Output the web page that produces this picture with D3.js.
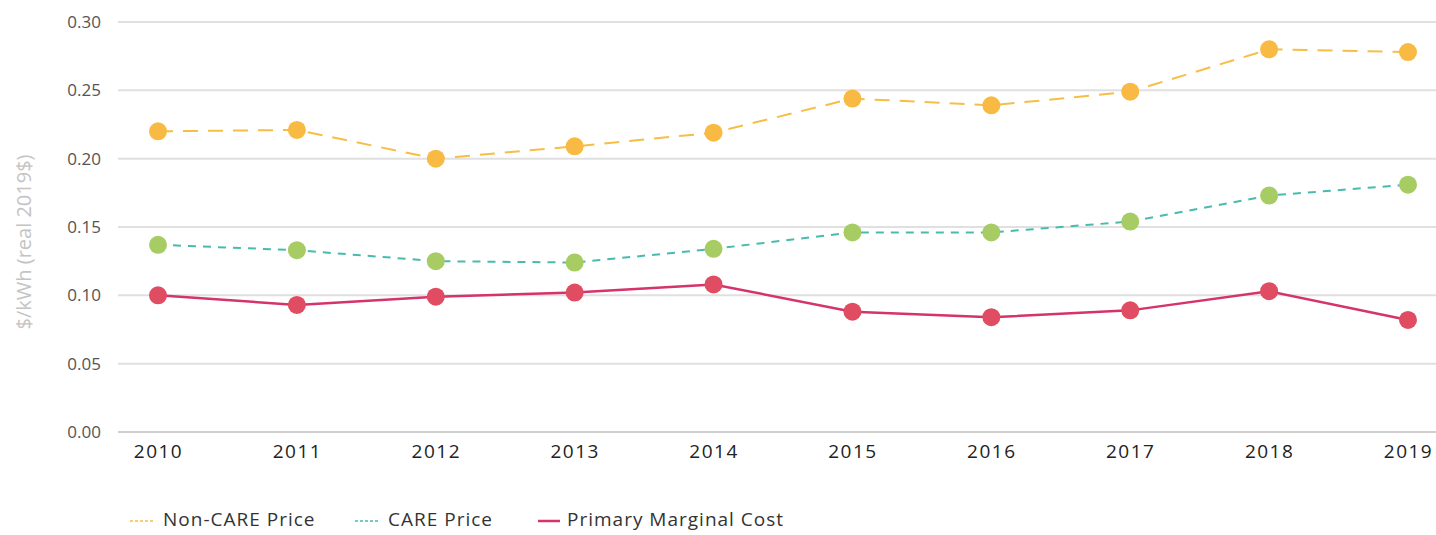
<!DOCTYPE html>
<html><head><meta charset="utf-8">
<script src="https://cdn.jsdelivr.net/npm/d3@7"></script>
<style>
html,body{margin:0;padding:0;background:#fff;}
svg text{font-family:"Open Sans",Lato,sans-serif;}
</style></head>
<body><svg id="c" width="1436" height="535"></svg>
<script>
const years = [2010,2011,2012,2013,2014,2015,2016,2017,2018,2019];
const nonCare = [0.220,0.221,0.200,0.209,0.219,0.244,0.239,0.249,0.280,0.278];
const care = [0.137,0.133,0.125,0.124,0.134,0.146,0.146,0.154,0.173,0.181];
const primary = [0.100,0.093,0.099,0.102,0.108,0.088,0.084,0.089,0.103,0.082];
const yTicks = [0,0.05,0.10,0.15,0.20,0.25,0.30];
const seriesNames = ["Non-CARE Price","CARE Price","Primary Marginal Cost"];

const svg = d3.select("#c");
const x = d3.scalePoint().domain(years).range([158,1408]);
const y = d3.scaleLinear().domain([0,0.30]).range([432,22]);

// grid
svg.append("g").selectAll("line").data(yTicks).join("line")
  .attr("x1",118).attr("x2",1436)
  .attr("y1",d=>y(d)).attr("y2",d=>y(d))
  .attr("stroke",d=>d===0?"#cfcfcf":"#e0e0e0").attr("stroke-width",2);

// y axis labels
const ya = svg.append("g").attr("transform","translate(101,0)")
  .call(d3.axisLeft(y).tickValues(yTicks).tickFormat(d3.format(".2f")).tickSize(0).tickPadding(0));
ya.select(".domain").remove();
ya.selectAll("text").attr("font-size",17).attr("fill","#555").attr("font-family","'Open Sans', sans-serif");

// x axis labels
const xa = svg.append("g").attr("transform","translate(0,441)")
  .call(d3.axisBottom(x).tickSize(0).tickPadding(0));
xa.select(".domain").remove();
xa.selectAll("text").attr("font-size",19).attr("fill","#222").attr("dy","0.9em")
  .attr("letter-spacing",1.5).attr("font-family","'Open Sans', sans-serif");

// y title
svg.append("text").attr("transform","translate(26,242) rotate(-90)")
  .attr("text-anchor","middle").attr("dominant-baseline","middle")
  .attr("font-size",20).attr("fill","#c4c4c4").text("$/kWh (real 2019$)");

const series = [
  {name:seriesNames[0], vals:nonCare, line:"#F6BE45", dot:"#F8BA42", dash:"15,10", w:2},
  {name:seriesNames[1], vals:care, line:"#48BBAE", dot:"#A6CC63", dash:"8,7", w:2},
  {name:seriesNames[2], vals:primary, line:"#D4336B", dot:"#E04C61", dash:null, w:2.5}
];
const line = d3.line().x((d,i)=>x(years[i])).y(d=>y(d));
series.forEach(s=>{
  svg.append("path").datum(s.vals).attr("d",line).attr("fill","none")
    .attr("stroke",s.line).attr("stroke-width",s.w)
    .attr("stroke-dasharray",s.dash);
  svg.append("g").selectAll("circle").data(s.vals).join("circle")
    .attr("cx",(d,i)=>x(years[i])).attr("cy",d=>y(d)).attr("r",9).attr("fill",s.dot);
});

// legend
const legX = [130,355,538];
series.forEach((s,i)=>{
  const g = svg.append("g").attr("transform",`translate(${legX[i]},521)`);
  g.append("line").attr("x1",0).attr("x2",s.dash?25:22).attr("y1",0).attr("y2",0)
    .attr("stroke",s.line).attr("stroke-width",s.dash?1.5:2.5)
    .attr("stroke-dasharray",s.dash?"3,2":null);
  g.append("text").attr("x",s.dash?33:29).attr("y",0).attr("dominant-baseline","middle")
    .attr("font-size",19).attr("letter-spacing",1).attr("fill","#333").text(s.name);
});
</script></body></html>
